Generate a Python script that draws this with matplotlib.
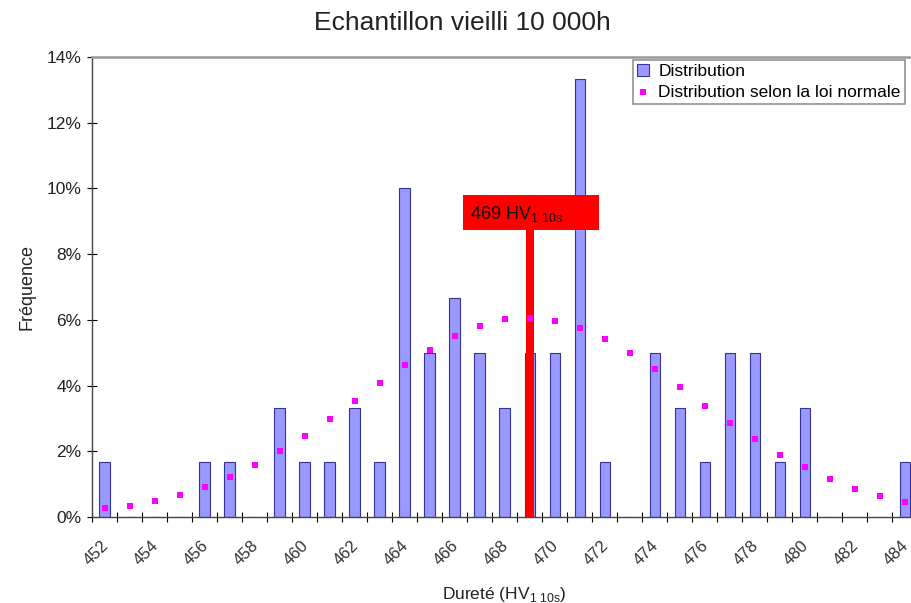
import matplotlib
matplotlib.use("Agg")
import matplotlib.pyplot as plt
from matplotlib.patches import Rectangle
import matplotlib.transforms as mtransforms
import numpy as np

plt.rcParams['font.family'] = ['Liberation Sans', 'DejaVu Sans']

# ---- data ----
durete = list(range(452, 485))
distribution = [1.67, 0, 0, 0, 1.67, 1.67, 0, 3.33, 1.67, 1.67, 3.33, 1.67,
                10.0, 5.0, 6.67, 5.0, 3.33, 5.0, 5.0, 13.33, 1.67, 0, 5.0, 3.33,
                1.67, 5.0, 5.0, 1.67, 3.33, 0, 0, 0, 1.67]
loi_normale = [0.26, 0.34, 0.49, 0.67, 0.92, 1.23, 1.58, 2.01, 2.47, 2.98, 3.53,
               4.09, 4.63, 5.08, 5.52, 5.81, 6.02, 6.05, 5.97, 5.74, 5.42, 4.98,
               4.49, 3.95, 3.38, 2.85, 2.36, 1.89, 1.51, 1.15, 0.85, 0.65, 0.47]
moyenne = 469
moyenne_label = 8.73  # height of the marker (%)
xtick_vals = list(range(452, 485, 2))
ytick_vals = [0, 2, 4, 6, 8, 10, 12, 14]

fig = plt.figure(figsize=(9.12, 6.03), dpi=100)
W, H = 912, 603
ax = fig.add_axes([92 / W, 1 - 517 / H, (917.5 - 92) / W, (517 - 57) / H])

bars = ax.bar(durete, distribution, width=0.42, color='#9999FF', edgecolor='#333399',
              linewidth=0.8, label='Distribution', zorder=2)
pts = ax.scatter(durete, loi_normale, marker='s', s=14, color='#FF00FF', linewidths=0,
                 label='Distribution selon la loi normale', zorder=4)

# mean marker
ax.bar([moyenne], [moyenne_label], width=0.32, color='#FF0000', zorder=3)
ax.add_patch(Rectangle((moyenne - 2.67, moyenne_label), 5.42, 1.07,
                       facecolor='#FF0000', edgecolor='none', zorder=5))
ax.text(moyenne - 2.4, moyenne_label + 0.5, r'469 HV$_{\mathregular{1\ 10s}}$',
        fontsize=13, va='center', ha='left', color='#111111', zorder=6)

ax.set_xlim(451.5, 484.5)
ax.set_ylim(0, 14)
ax.set_yticks(ytick_vals)
ax.set_yticklabels([f'{v}%' for v in ytick_vals], fontsize=12.5, color='#222222')
ax.set_xticks(xtick_vals)
ax.set_xticklabels([str(v) for v in xtick_vals], rotation=45, ha='right',
                   rotation_mode='anchor', fontsize=12, color='#333333')
ax.tick_params(axis='x', length=0, pad=15)
offset = mtransforms.ScaledTranslation(-4 / 100, 0, fig.dpi_scale_trans)
for lab in ax.get_xticklabels():
    lab.set_transform(lab.get_transform() + offset)
ax.set_xticks(np.arange(451.5, 485, 1), minor=True)
ax.tick_params(axis='x', which='minor', direction='inout', length=7, width=0.8)
ax.tick_params(axis='y', direction='inout', length=7, width=0.8, pad=4)

for s in ['top', 'right']:
    ax.spines[s].set_color('#999999')
    ax.spines[s].set_linewidth(1.8)
for s in ['left', 'bottom']:
    ax.spines[s].set_color('#444444')
    ax.spines[s].set_linewidth(1.0)

ax.set_ylabel('Fréquence', fontsize=13, labelpad=8, color='#222222')
ax.set_xlabel(r'Dureté (HV$_{\mathregular{1\ 10s}}$)', fontsize=12.5, labelpad=12,
              color='#222222')
fig.text(462 / W, 1 - 23 / H, 'Echantillon vieilli 10 000h', fontsize=19,
         ha='center', va='center', color='#222222')

leg = ax.legend(handles=[bars, pts],
                labels=['Distribution', 'Distribution selon la loi normale'],
                loc='upper left', bbox_to_anchor=((633 - 92) / (917.5 - 92), 1 - 3 / 460),
                fontsize=12.5, frameon=True, fancybox=False, edgecolor='#777777',
                borderpad=0.25, handlelength=0.7, handletextpad=0.5, labelspacing=0.3,
                borderaxespad=0, markerscale=1.0)
leg.get_frame().set_linewidth(1.2)

fig.savefig('out.png', dpi=100)
